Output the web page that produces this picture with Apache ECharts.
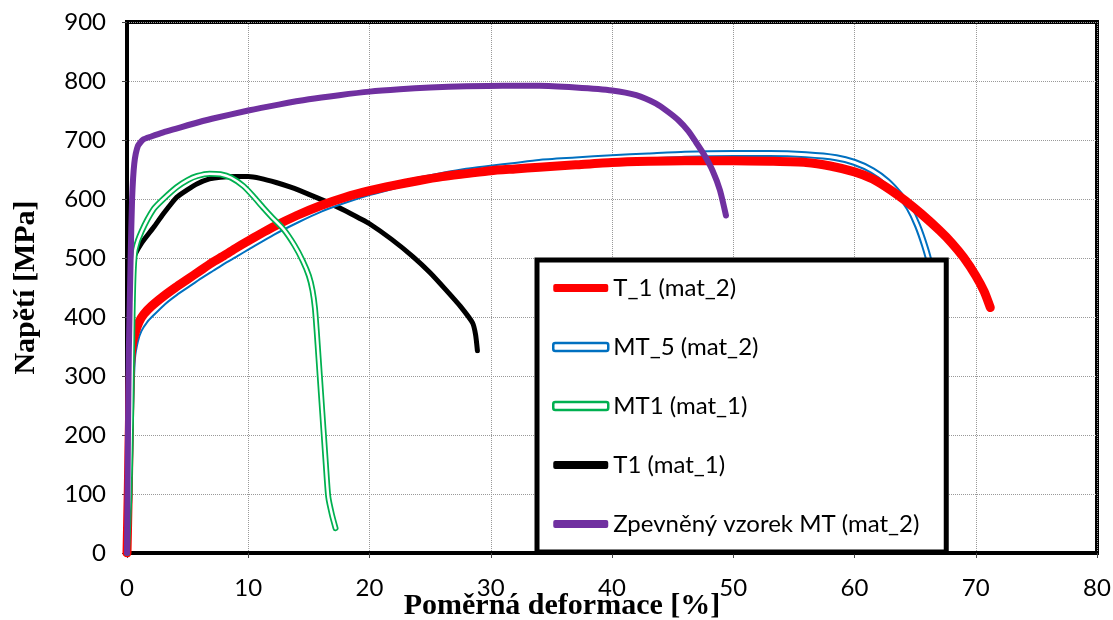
<!DOCTYPE html>
<html>
<head>
<meta charset="utf-8">
<title>Napětí - deformace</title>
<script src="https://cdn.jsdelivr.net/npm/echarts@6/dist/echarts.min.js"></script>
<style>
  html, body { margin: 0; padding: 0; background: #fff; }
  #chart { width: 1113px; height: 620px; }
</style>
</head>
<body>
<div id="chart"></div>
<script>
// legend names, in legend order
const seriesNames = ['T_1 (mat_2)', 'MT_5 (mat_2)', 'MT1 (mat_1)', 'T1 (mat_1)', 'Zpevněný vzorek MT (mat_2)'];

// T_1 (mat_2) - red
const t1Mat2Strain = [0, 0.1, 0.2, 0.3, 0.45, 0.7, 1.0, 1.4, 2, 3, 4, 5, 6, 7, 8, 9, 10, 12, 14, 16, 18, 20, 22, 24, 26, 28, 30, 32, 34, 37, 40, 43, 46, 50, 53, 56, 58, 60, 61.5, 63, 64.2, 65.5, 67, 68, 69, 70, 70.7, 71.2];
const t1Mat2Stress = [0, 100, 220, 320, 355, 375, 392, 405, 418, 435, 450, 464, 478, 492, 504, 517, 529, 552, 572, 589, 603, 614, 623, 631, 638, 643, 648, 651, 654, 658, 662, 664, 665, 665, 664, 662, 656, 646, 634, 615, 597, 575, 547, 526, 501, 470, 443, 416];

// MT_5 (mat_2) - blue double line
const mt5Strain = [0, 0.15, 0.3, 0.45, 0.7, 1.0, 1.5, 2, 3, 4, 5, 6, 7, 8, 9, 10, 12, 14, 16, 18, 20, 22, 24, 26, 28, 30, 32, 34, 37, 40, 43, 46, 50, 53, 56, 58.5, 60, 61.5, 62.7, 63.7, 64.5, 65.2, 65.8, 66.2, 66.5];
const mt5Stress = [0, 100, 250, 330, 360, 378, 394, 405, 425, 441, 455, 469, 482, 495, 507, 519, 543, 564, 583, 598, 611, 622, 632, 640, 647, 652, 657, 662, 666, 670, 673, 676, 677, 677, 675, 670, 662, 648, 630, 608, 585, 555, 520, 490, 450];

// MT1 (mat_1) - green double line
const mt1Strain = [0, 0.2, 0.35, 0.45, 0.55, 0.7, 1.2, 2.2, 3, 4.1, 5, 5.8, 6.8, 7.7, 8.6, 9.6, 10.4, 11.2, 12, 12.9, 13.8, 14.5, 15, 15.3, 15.5, 15.65, 15.8, 16.0, 16.2, 16.4, 16.6, 16.9, 17.2];
const mt1Stress = [0, 100, 250, 400, 480, 515, 545, 583, 600, 620, 632, 639, 643, 642, 636, 622, 605, 586, 568, 549, 522, 495, 470, 445, 415, 375, 330, 270, 210, 150, 95, 65, 42];

// T1 (mat_1) - black
const t1Mat1Strain = [0, 0.1, 0.2, 0.3, 0.4, 0.55, 1.2, 2.2, 3, 4.1, 5, 5.8, 6.8, 7.7, 9, 10, 11, 12.3, 13.5, 15.1, 16.7, 18, 19.2, 20, 21.8, 23.6, 25, 26.3, 27.5, 28.5, 28.75, 28.9];
const t1Mat1Stress = [0, 150, 300, 420, 480, 500, 525, 552, 575, 603, 616, 626, 634, 637, 638, 638, 635, 628, 620, 607, 593, 580, 567, 558, 532, 502, 475, 446, 418, 390, 370, 343];

// Zpevněný vzorek MT (mat_2) - purple
const mtHardStrain = [0, 0.08, 0.15, 0.3, 0.42, 0.6, 0.9, 1.35, 2, 3, 4, 5, 7, 10, 12.5, 15, 17.5, 20, 22.5, 25, 28, 31, 34, 37, 40, 42, 43.6, 44.6, 45.5, 46.3, 46.9, 47.6, 48.3, 48.9, 49.4];
const mtHardStress = [0, 200, 340, 500, 600, 660, 690, 701, 706, 713, 719, 725, 736, 750, 760, 769, 776, 782, 786, 789, 791, 792, 792, 789, 784, 776, 762, 748, 733, 715, 697, 675, 648, 615, 572];

const xTicks = { min: 0, max: 80, step: 10 };
const yTicks = { min: 0, max: 900, step: 100 };

const pairs = (xs, ys) => xs.map((x, i) => [x, ys[i]]);

const labelFont = 'Lato, "Open Sans", sans-serif';
const nameFont = '"Liberation Serif", "DejaVu Serif", serif';

const lineSeries = (name, data, color, width) => ({
  name: name,
  type: 'line',
  data: data,
  smooth: 0.2,
  showSymbol: false,
  symbol: 'none',
  lineStyle: { color: color, width: width, cap: 'round', join: 'round' },
  itemStyle: { color: color },
  emphasis: { disabled: true }
});

const chart = echarts.init(document.getElementById('chart'));
chart.setOption({
  animation: false,
  backgroundColor: '#fff',
  grid: {
    left: 127, right: 16, top: 22, bottom: 67,
    containLabel: false,
    outerBoundsMode: 'none',
    show: true, borderColor: '#000', borderWidth: 4
  },
  xAxis: {
    type: 'value',
    min: xTicks.min, max: xTicks.max, interval: xTicks.step,
    name: 'Poměrná deformace [%]',
    nameLocation: 'middle',
    nameGap: 38,
    nameMoveOverlap: false,
    nameTextStyle: {
      fontFamily: nameFont, fontWeight: 'bold', fontSize: 30, color: '#000',
      padding: [0, 100, 0, 0]
    },
    axisLine: { show: true, onZero: false, lineStyle: { color: '#000', width: 4 } },
    axisTick: { show: true, length: 5, lineStyle: { color: '#444', width: 1 } },
    axisLabel: { fontFamily: labelFont, fontSize: 24, color: '#000', margin: 23 },
    splitLine: { show: true, lineStyle: { color: '#999', type: 'dotted', width: 1 } }
  },
  yAxis: {
    type: 'value',
    min: yTicks.min, max: yTicks.max, interval: yTicks.step,
    name: 'Napětí [MPa]',
    nameLocation: 'middle',
    nameGap: 86,
    nameMoveOverlap: false,
    nameTextStyle: { fontFamily: nameFont, fontWeight: 'bold', fontSize: 30, color: '#000' },
    axisLine: { show: true, onZero: false, lineStyle: { color: '#000', width: 4 } },
    axisTick: { show: true, length: 5, lineStyle: { color: '#444', width: 1 } },
    axisLabel: { fontFamily: labelFont, fontSize: 24, color: '#000', margin: 21 },
    splitLine: { show: true, lineStyle: { color: '#999', type: 'dotted', width: 1 } }
  },
  legend: {
    orient: 'vertical',
    left: 537, top: 260,
    padding: [15, 1, 15, 15],
    itemGap: 33,
    itemWidth: 55, itemHeight: 8,
    backgroundColor: '#fff',
    borderColor: '#000', borderWidth: 5,
    selectedMode: true,
    textStyle: { fontFamily: labelFont, fontSize: 24, color: '#000', lineHeight: 26, width: 332 },
    data: [
      { name: seriesNames[0], icon: 'roundRect', itemStyle: { color: '#ff0000' } },
      { name: seriesNames[1], icon: 'roundRect', itemStyle: { color: '#fff', borderColor: '#0070c0', borderWidth: 2.5 } },
      { name: seriesNames[2], icon: 'roundRect', itemStyle: { color: '#fff', borderColor: '#00b050', borderWidth: 2.5 } },
      { name: seriesNames[3], icon: 'roundRect', itemStyle: { color: '#000' } },
      { name: seriesNames[4], icon: 'roundRect', itemStyle: { color: '#7030a0' } }
    ]
  },
  series: [
    lineSeries(seriesNames[3], pairs(t1Mat1Strain, t1Mat1Stress), '#000000', 5),
    lineSeries(seriesNames[1], pairs(mt5Strain, mt5Stress), '#0070c0', 7),
    lineSeries(seriesNames[1], pairs(mt5Strain, mt5Stress), '#ffffff', 3),
    lineSeries(seriesNames[0], pairs(t1Mat2Strain, t1Mat2Stress), '#ff0000', 9),
    lineSeries(seriesNames[2], pairs(mt1Strain, mt1Stress), '#00b050', 6),
    lineSeries(seriesNames[2], pairs(mt1Strain, mt1Stress), '#ffffff', 2.5),
    lineSeries(seriesNames[4], pairs(mtHardStrain, mtHardStress), '#7030a0', 6)
  ]
});
</script>
</body>
</html>
